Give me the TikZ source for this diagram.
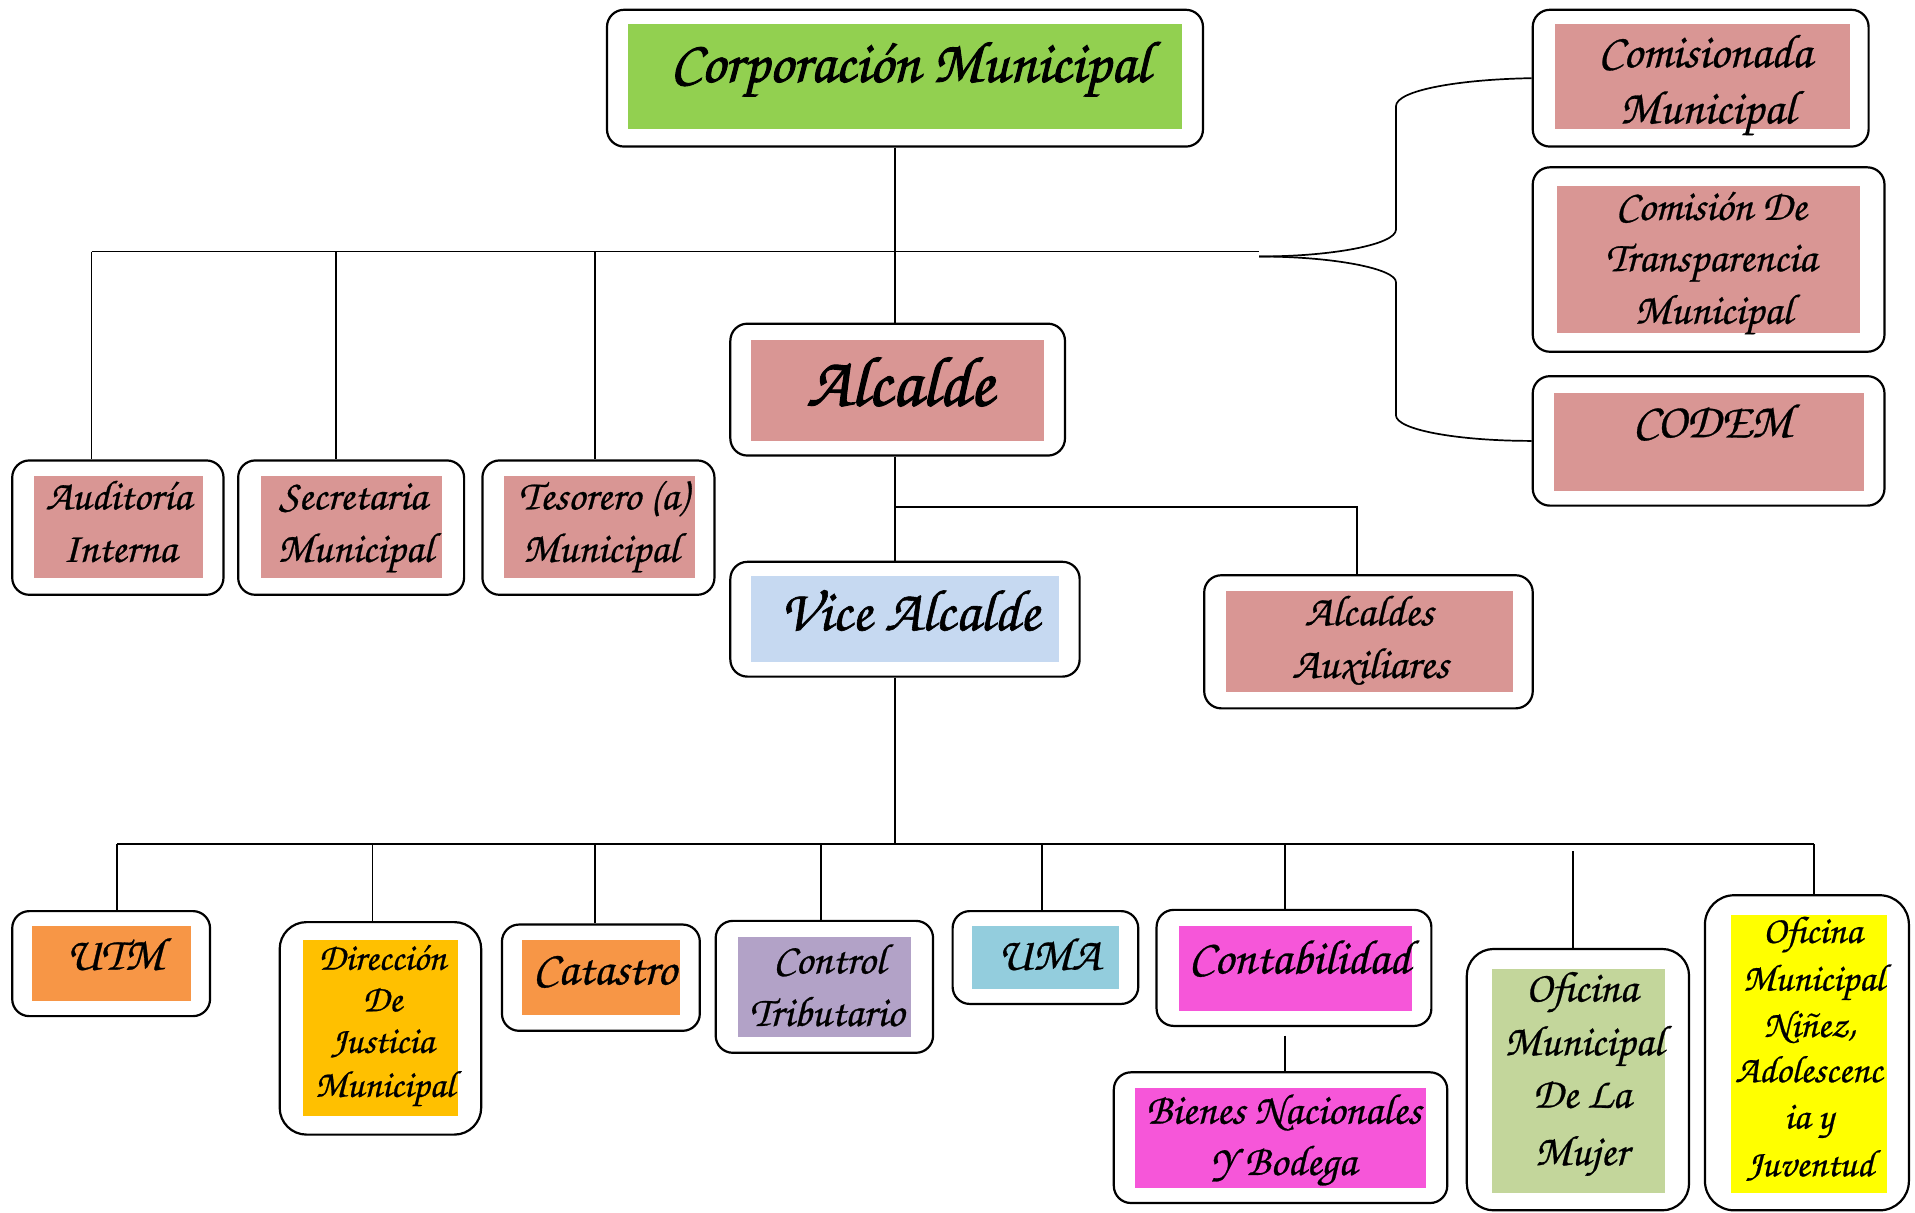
\documentclass[tikz,border=0pt]{standalone}
\usepackage{fontspec}
\setmainfont[FakeBold=0.6]{texgyrechorus-mediumitalic.otf}
\newfontfamily\heavyfont[FakeBold=1.6]{texgyrechorus-mediumitalic.otf}
\newfontfamily\midfont[FakeBold=1.0]{texgyrechorus-mediumitalic.otf}
\usetikzlibrary{fit}
\definecolor{cgreen}{HTML}{92D050}
\definecolor{cpink}{HTML}{D99694}
\definecolor{cblue}{HTML}{C6D9F1}
\definecolor{corange}{HTML}{F79646}
\definecolor{cgold}{HTML}{FFC000}
\definecolor{cpurple}{HTML}{B2A2C7}
\definecolor{ccyan}{HTML}{93CDDD}
\definecolor{cmagenta}{HTML}{F656D9}
\definecolor{colive}{HTML}{C3D69B}
\definecolor{cyellow}{HTML}{FFFF00}
\begin{document}
\begin{tikzpicture}[x=0.5pt,y=-0.5pt,
  obox/.style={draw=black, line width=0.9pt, rounded corners=7pt, fill=white, inner sep=0pt},
  tallbox/.style={obox, rounded corners=11pt},
  ibox/.style={inner sep=0pt, draw=none},
  txt/.style={anchor=base, inner sep=0pt, text=black},
  conn/.style={line width=0.7pt},
  fs/.style={font=\fontsize{#1}{#1}\selectfont},
  hfs/.style={font=\heavyfont\fontsize{#1}{#1}\selectfont},
  mfs/.style={font=\midfont\fontsize{#1}{#1}\selectfont}]
\useasboundingbox (0,0) rectangle (1568,993);

% ---------- boxes ----------
\node[obox, fit={(497,8)(985,120)}] (corp) {};
\node[ibox, fill=cgreen, fit={(514,20)(968,106)}] (corp-in) {};
\node[txt, hfs=24.1] (corp-t) at (745,67) {Corporación Municipal};

\node[obox, fit={(1255,8)(1530,120)}] (comi) {};
\node[ibox, fill=cpink, fit={(1273,20)(1515,106)}] (comi-in) {};
\node[txt, fs=19.5] (comi-t1) at (1396,55) {Comisionada};
\node[txt, fs=19.5] (comi-t2) at (1398,101) {Municipal};

\node[obox, fit={(1255,137)(1543,288)}] (trans) {};
\node[ibox, fill=cpink, fit={(1275,152)(1523,273)}] (trans-in) {};
\node[txt, fs=17.5] (trans-t1) at (1401,180) {Comisión De};
\node[txt, fs=17.5] (trans-t2) at (1401,222) {Transparencia};
\node[txt, fs=17.5] (trans-t3) at (1403,265) {Municipal};

\node[obox, fit={(1255,308)(1543,414)}] (codem) {};
\node[ibox, fill=cpink, fit={(1272,322)(1526,402)}] (codem-in) {};
\node[txt, fs=20] (codem-t) at (1402,358) {CODEM};

\node[obox, fit={(598,265)(872,373)}] (alc) {};
\node[ibox, fill=cpink, fit={(615,278)(855,361)}] (alc-in) {};
\node[txt, hfs=29] (alc-t) at (737,332) {Alcalde};

\node[obox, fit={(10,377)(183,487)}] (aud) {};
\node[ibox, fill=cpink, fit={(28,390)(166,473)}] (aud-in) {};
\node[txt, fs=17.2] (aud-t1) at (97,417) {Auditoría};
\node[txt, fs=17.2] (aud-t2) at (98,460) {Interna};

\node[obox, fit={(195,377)(380,487)}] (sec) {};
\node[ibox, fill=cpink, fit={(214,390)(362,473)}] (sec-in) {};
\node[txt, fs=17.3] (sec-t1) at (289,417) {Secretaria};
\node[txt, fs=17.3] (sec-t2) at (291,460) {Municipal};

\node[obox, fit={(395,377)(585,487)}] (tes) {};
\node[ibox, fill=cpink, fit={(413,390)(569,473)}] (tes-in) {};
\node[txt, fs=17.3] (tes-t1) at (494,417) {Tesorero (a)};
\node[txt, fs=17.3] (tes-t2) at (492,460) {Municipal};

\node[obox, fit={(598,460)(884,554)}] (vice) {};
\node[ibox, fill=cblue, fit={(615,472)(867,542)}] (vice-in) {};
\node[txt, mfs=24] (vice-t) at (745,516) {Vice Alcalde};

\node[obox, fit={(986,471)(1255,580)}] (aux) {};
\node[ibox, fill=cpink, fit={(1004,484)(1239,567)}] (aux-in) {};
\node[txt, fs=17.8] (aux-t1) at (1121,512) {Alcaldes};
\node[txt, fs=17.8] (aux-t2) at (1122,555) {Auxiliares};

\node[obox, fit={(10,746)(172,832)}] (utm) {};
\node[ibox, fill=corange, fit={(26,758)(156,820)}] (utm-in) {};
\node[txt, fs=19.2] (utm-t) at (94,794) {UTM};

\node[tallbox, fit={(229,755)(394,929)}] (dir) {};
\node[ibox, fill=cgold, fit={(248,770)(375,914)}] (dir-in) {};
\node[txt, fs=15.5] (dir-t1) at (313,794) {Dirección};
\node[txt, fs=15.5] (dir-t2) at (313,828) {De};
\node[txt, fs=15.5] (dir-t3) at (313,862) {Justicia};
\node[txt, fs=15.5] (dir-t4) at (315,898) {Municipal};

\node[obox, fit={(411,757)(573,844)}] (cat) {};
\node[ibox, fill=corange, fit={(427,770)(557,831)}] (cat-in) {};
\node[txt, fs=19.7] (cat-t) at (495,806) {Catastro};

\node[obox, fit={(586,754)(764,862)}] (ctrl) {};
\node[ibox, fill=cpurple, fit={(604,767)(746,849)}] (ctrl-in) {};
\node[txt, fs=17.5] (ctrl-t1) at (679,797) {Control};
\node[txt, fs=17.5] (ctrl-t2) at (677,840) {Tributario};

\node[obox, fit={(780,746)(932,822)}] (uma) {};
\node[ibox, fill=ccyan, fit={(796,758)(916,810)}] (uma-in) {};
\node[txt, fs=19.1] (uma-t) at (859,794) {UMA};

\node[obox, fit={(947,745)(1172,840)}] (cont) {};
\node[ibox, fill=cmagenta, fit={(965,758)(1156,828)}] (cont-in) {};
\node[txt, fs=19.9] (cont-t) at (1064,797) {Contabilidad};

\node[obox, fit={(912,878)(1185,985)}] (bien) {};
\node[ibox, fill=cmagenta, fit={(929,891)(1168,973)}] (bien-in) {};
\node[txt, fs=17.6] (bien-t1) at (1051,920) {Bienes Nacionales};
\node[txt, fs=17.6] (bien-t2) at (1051,962) {Y Bodega};

\node[tallbox, fit={(1201,777)(1383,991)}] (muj) {};
\node[ibox, fill=colive, fit={(1222,793)(1363,977)}] (muj-in) {};
\node[txt, fs=17.7] (muj-t1) at (1295,820) {Oficina};
\node[txt, fs=17.7] (muj-t2) at (1297,864) {Municipal};
\node[txt, fs=17.7] (muj-t3) at (1295,907) {De La};
\node[txt, fs=17.7] (muj-t4) at (1295,954) {Mujer};

\node[tallbox, rounded corners=12pt, fit={(1396,733)(1563,991)}] (nin) {};
\node[ibox, fill=cyellow, fit={(1417,749)(1545,977)}] (nin-in) {};
\node[txt, fs=15.7] (nin-t1) at (1484,772) {Oficina};
\node[txt, fs=15.7] (nin-t2) at (1485,811) {Municipal};
\node[txt, fs=15.7] (nin-t3) at (1482,849) {Niñez,};
\node[txt, fs=15.7] (nin-t4) at (1481,886) {Adolescenc};
\node[txt, fs=15.7] (nin-t5) at (1481,924) {ia y};
\node[txt, fs=15.7] (nin-t6) at (1482,963) {Juventud};

% ---------- connectors ----------
\coordinate (mx) at (733,206);
\coordinate (hl) at (75,206);
\coordinate (hr) at (1031,206);
\coordinate (j2) at (275,206);
\coordinate (j3) at (487,206);
\draw[conn] (mx |- corp.south) -- (mx |- alc.north);
\draw[conn] (hl) -- (hr);
\draw[conn] (hl) -- (hl |- aud.north);
\draw[conn] (j2) -- (j2 |- sec.north);
\draw[conn] (j3) -- (j3 |- tes.north);

% brace
\coordinate (bt) at (1031,210);
\draw[conn] (bt) .. controls (1092,210) and (1143,200) .. (1143,188)
  -- (1143,87) .. controls (1143,74) and (1194,65) .. (comi.west);
\draw[conn] (bt) .. controls (1092,210) and (1143,220) .. (1143,231)
  -- (1143,340) .. controls (1143,352) and (1194,361) .. (codem.west);

% Alcalde -> Vice, Auxiliares
\coordinate (ja) at (733,415);
\coordinate (jb) at (1111,415);
\draw[conn] (mx |- alc.south) -- (mx |- vice.north);
\draw[conn] (ja) -- (jb) -- (jb |- aux.north);

% Vice -> bottom row
\coordinate (bl) at (96,691);
\coordinate (br) at (1485,691);
\draw[conn] (mx |- vice.south) -- (mx |- bl);
\draw[conn] (bl) -- (br);
\draw[conn] (bl) -- (bl |- utm.north);
\coordinate (k2) at (305,691);
\coordinate (k3) at (487,691);
\coordinate (k4) at (672,691);
\coordinate (k5) at (853,691);
\coordinate (k6) at (1052,691);
\coordinate (k7) at (1288,697);
\draw[conn] (k2) -- (k2 |- dir.north);
\draw[conn] (k3) -- (k3 |- cat.north);
\draw[conn] (k4) -- (k4 |- ctrl.north);
\draw[conn] (k5) -- (k5 |- uma.north);
\draw[conn] (k6) -- (k6 |- cont.north);
\draw[conn] (k7) -- (k7 |- muj.north);
\draw[conn] (br) -- (br |- nin.north);
\coordinate (kc) at (1052,848);
\draw[conn] (kc) -- (kc |- bien.north);
\end{tikzpicture}
\end{document}
